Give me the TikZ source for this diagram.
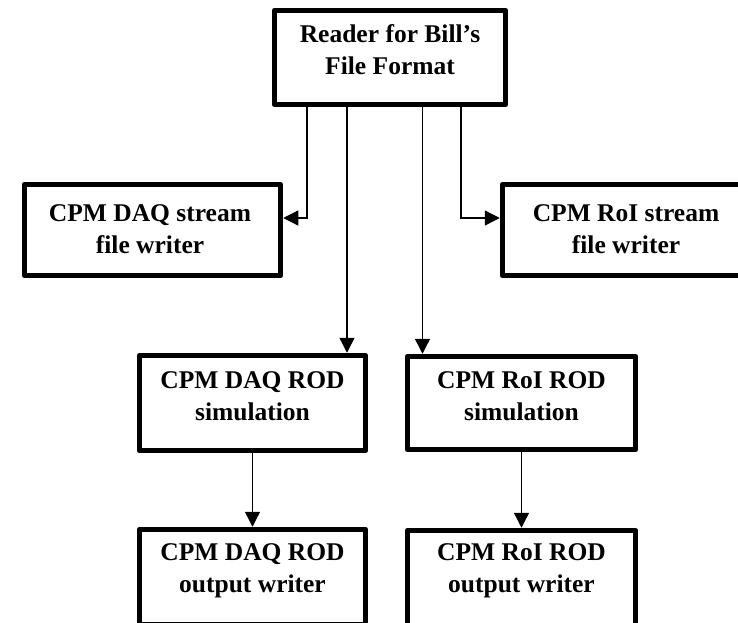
\documentclass[tikz,border=0pt]{standalone}
\usepackage{fontspec}
\setmainfont{Liberation Serif}
\usetikzlibrary{arrows.meta}
\begin{document}
\begin{tikzpicture}[x=1pt,y=-1pt,
  blk/.style={draw, line width=5.5pt, line join=round, inner sep=0pt},
  lbl/.style={font=\bfseries\fontsize{25.5}{31.5}\selectfont, align=center, inner sep=0pt, anchor=base},
  conn/.style={line width=1.3pt, -{Triangle[length=15pt,width=15pt]}}]
\useasboundingbox (0,0) rectangle (738,622);
\clip (0,0) rectangle (738,622);

% boxes (labels are placed by the baseline of their last line)
\node[blk, minimum width=231pt, minimum height=94pt] (reader) at (390,57.5) {};
\node[lbl] (readert) at (390,74) {Reader for Bill’s\\File Format};

\node[blk, minimum width=256pt, minimum height=91pt] (daqs) at (152.5,230) {};
\node[lbl] (daqst) at (150,253) {CPM DAQ stream\\file writer};

\node[blk, minimum width=256pt, minimum height=91pt] (rois) at (630.5,230) {};
\node[lbl] (roist) at (626,253) {CPM RoI stream\\file writer};

\node[blk, minimum width=226pt, minimum height=95pt] (sim1) at (252.5,403) {};
\node[lbl] (sim1t) at (252.5,420) {CPM DAQ ROD\\simulation};

\node[blk, minimum width=228pt, minimum height=93pt] (sim2) at (521.5,403) {};
\node[lbl] (sim2t) at (521.5,420) {CPM RoI ROD\\simulation};

\node[blk, minimum width=226pt, minimum height=95pt] (out1) at (252.5,577) {};
\node[lbl] (out1t) at (252.5,592) {CPM DAQ ROD\\output writer};

\node[blk, minimum width=228pt, minimum height=95pt] (out2) at (521.5,578) {};
\node[lbl] (out2t) at (521.5,592) {CPM RoI ROD\\output writer};

% connector start points on the reader's lower edge
\coordinate (r1) at ([xshift=-83pt]reader.south);
\coordinate (r2) at ([xshift=-43pt]reader.south);
\coordinate (r3) at ([xshift=32.5pt]reader.south);
\coordinate (r4) at ([xshift=71pt]reader.south);

% connectors
\draw[conn] (r1) |- ([yshift=12pt]daqs.east);
\draw[conn] (r4) |- ([yshift=12pt]rois.west);
\draw[conn] (r2) -- (r2 |- sim1.north);
\draw[conn] (r3) -- (r3 |- sim2.north);
\draw[conn] (sim1) -- (out1);
\draw[conn] (sim2) -- (out2);
\end{tikzpicture}
\end{document}
